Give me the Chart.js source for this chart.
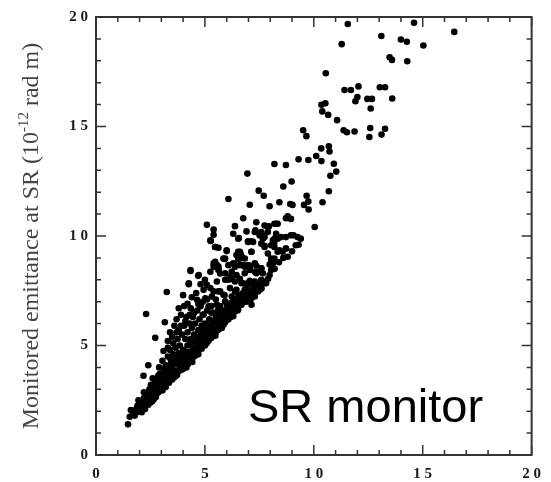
<!DOCTYPE html>
<html>
<head>
<meta charset="utf-8">
<script src="https://cdn.jsdelivr.net/npm/chart.js@4.4.1/dist/chart.umd.min.js"></script>
<style>
  html, body { margin: 0; padding: 0; background: #fff; }
  #wrap { width: 551px; height: 482px; }
</style>
</head>
<body>
<div id="wrap"><canvas id="mycanvas"></canvas></div>
<script>
// axis settings
var xMin = 0, xMax = 20, yMin = 0, yMax = 20;
var tickStep = 5;
var yTitle = ['Monitored emittance at SR (10', '-12', ' rad m)'];
var note = 'SR monitor';

// points, [x, y]
var upperPoints = [
  [11.56,19.68],[14.6,19.74],[16.45,19.32],[13.1,19.13],[11.28,18.76],[14.0,18.97],[14.27,18.87],
  [15.03,18.7],[13.48,18.16],[13.59,18.04],[14.29,17.98],[10.55,17.43],[12.05,16.83],[11.41,16.67],
  [11.7,16.67],[13.03,16.79],[13.27,16.79],[12.0,16.35],[11.91,16.15],[12.46,16.26],[12.67,16.26],
  [13.6,16.28],[12.61,15.82],[10.35,15.99],[10.53,16.06],[10.39,15.69],[10.66,15.53],[11.07,15.29]
];
var middlePoints = [
  [9.51,14.83],[9.66,14.56],[11.37,14.83],[11.52,14.74],[11.87,14.77],[12.59,14.93],[13.27,14.9],
  [12.55,14.52],[13.11,14.63],[10.34,14.0],[10.69,14.1],[10.72,13.86],[10.11,13.65],[10.35,13.42],
  [10.92,13.3],[11.03,12.94],[10.76,12.75],[9.3,13.5],[9.75,13.47],[8.72,13.24],[8.19,13.29],
  [8.98,12.49],[8.6,12.26],[10.69,12.04],[6.95,12.85],[7.47,12.07]
];
var lowerMidPoints = [
  [9.67,11.84],[9.75,11.57],[10.4,11.54],[8.42,11.54],[8.92,11.46],[9.02,11.42],[9.55,11.42],
  [9.76,11.21],[7.97,11.36],[8.8,10.9],[8.95,10.78],[8.72,10.81],[8.3,10.56],[7.89,10.41],
  [10.04,10.41],[8.5,9.95],[8.72,9.95],[8.95,10.03],[9.07,10.03],[9.25,9.95],[9.4,9.88],[8.2,9.88],
  [8.04,9.58],[8.72,9.43],[9.17,9.58],[8.42,9.35],[6.08,11.69],[7.7,11.84],[7.06,11.43],[6.76,10.81],
  [8.34,10.56],[7.94,10.44],[6.38,10.45],[7.32,10.26],[7.59,10.18],[7.74,9.95],[7.51,10.03],
  [6.3,10.1],[6.56,9.91],[6.98,9.76],[7.13,9.76],[8.27,9.95],[8.18,9.65],[8.8,9.05],[8.34,9.28],
  [7.59,9.65],[7.74,9.55],[7.89,9.2],[5.62,9.46],[6.0,9.31],[5.93,8.97],[6.53,9.28],[6.68,9.05],
  [6.45,9.13],[7.13,9.28],[8.04,8.97],[8.12,8.75],[7.97,8.7],[7.59,8.52],[7.51,8.37],[8.04,8.45],
  [5.09,10.51],[5.4,10.3],[5.4,10.06],[5.27,9.77],[5.47,9.5],[7.36,10.63],[7.74,10.48],[8.19,10.56],
  [7.89,10.18],[8.27,10.1],[7.66,10.03],[6.91,10.21],[7.29,10.18]
];
var spreadPoints = [
  [6.08,8.67],[6.3,8.75],[6.61,8.67],[6.83,8.6],[7.06,8.52],[7.29,8.37],[6.23,8.37],[5.62,8.6],
  [5.7,8.29],[5.93,8.0],[6.23,8.04],[6.61,8.04],[7.06,7.95],[7.66,7.92],[7.81,7.84],[6.76,7.84],
  [6.91,7.62],[7.36,7.62],[7.44,7.47],[6.38,7.47],[7.21,7.24],[5.93,7.01],[6.53,7.16],[6.68,6.86],
  [6.23,6.79],[5.62,7.47],
  [5.25,9.8],[5.47,9.5],[6.53,9.88],[6.98,9.73],[7.21,9.73],[7.66,9.88],[8.12,9.8],[8.34,9.88],
  [7.74,9.5],[8.19,9.5],[8.72,9.43],[8.57,9.28],[6.0,9.35],[6.61,9.28],[7.14,9.28],[6.61,8.97],
  [6.83,8.97],[5.85,8.97],[5.4,8.75],[5.55,8.67],[6.38,8.6],[6.98,8.67],[7.29,8.75],[7.59,8.52],
  [8.04,8.82],[8.19,8.97],[4.34,8.45],[4.72,8.22],[5.25,8.37],[5.62,8.45],[5.93,8.3],[6.15,8.15],
  [6.45,8.22],[6.83,8.3],[7.06,8.45],[7.36,8.3],[7.66,8.3],[7.97,8.22],[4.26,7.84],[5.09,7.77],
  [5.25,7.62],[5.55,7.92],[6.08,8.0],[6.38,7.92],[6.68,7.84],[6.98,7.84],[7.29,7.92],[7.59,8.0],
  [7.74,7.84],[4.94,7.54],[5.4,7.47],[5.7,7.47],[6.15,7.62],[6.45,7.54],[6.83,7.54],[7.14,7.47],
  [7.51,7.54],[4.64,7.09],[5.02,7.16],[5.32,7.24],[5.85,7.32],[6.23,7.24],[6.61,7.24],[6.98,7.24],
  [7.29,7.24],[4.79,6.79],[5.17,6.79],[5.55,6.86],[5.93,7.01],[6.38,6.94],[6.83,7.01],[7.14,6.86],
  [4.49,6.49],[4.94,6.41],[5.4,6.49],[5.85,6.56],[6.3,6.71],[6.53,6.64],[6.0,6.34],[6.3,6.34],
  [5.7,6.03],[5.47,5.88],
  [6.65,9.15],[6.71,9.0],[6.53,8.95],[5.9,8.95],[6.38,8.67],[6.76,8.67],[7.06,8.64],[7.36,8.64],
  [5.47,8.82],[5.4,8.6],[5.62,8.49]
];
var densePoints = [
  [1.47,1.40],[1.55,1.75],[1.6,2.05],[1.7,1.95],[1.78,1.8],[1.85,2.1],[1.92,1.97],[1.95,2.5],[1.9,2.25],
  [2.05,2.35],[2.1,1.95],[2.15,2.2],[2.2,2.6],[2.2,2.86],[2.25,2.1],[2.3,2.45],[2.35,2.75],[2.4,2.3],
  [2.18,3.62],[2.4,4.1],[2.42,2.55],[2.45,3.0],[2.3,6.44],
  [2.5,2.4],[2.55,2.7],[2.6,3.1],[2.65,2.55],[2.7,2.9],[2.72,3.35],[2.75,2.65],[2.8,3.1],[2.85,3.6],
  [2.85,2.85],[2.9,3.3],[2.9,4.0],[2.72,5.35],[2.6,3.5],[2.95,2.95],
  [3.0,3.2],[3.0,3.6],[3.05,4.3],[3.05,2.95],[3.1,3.9],[3.1,4.75],[3.15,3.4],[3.16,6.06],[3.2,3.1],
  [3.2,4.1],[3.25,7.44],[3.25,3.7],[3.3,4.5],[3.3,5.2],[3.35,3.3],[3.35,3.95],[3.4,4.8],[3.4,5.6],
  [3.45,3.55],[3.45,4.25],
  [3.5,3.45],[3.5,3.9],[3.55,4.6],[3.55,5.1],[3.6,4.2],[3.6,5.9],[3.65,3.6],[3.65,4.9],[3.7,4.4],
  [3.7,6.2],[3.75,3.8],[3.75,5.3],[3.8,4.65],[3.8,5.7],[3.85,4.0],[3.85,5.0],[3.9,4.3],[3.9,6.4],
  [3.95,3.9],[3.95,5.5],
  [4.0,4.1],[4.0,4.8],[4.05,5.9],[4.05,6.8],[4.1,4.5],[4.1,5.3],[4.15,4.0],[4.15,6.3],[4.2,5.0],
  [4.2,5.6],[4.25,4.3],[4.26,7.8],[4.3,4.7],[4.3,6.0],[4.34,8.4],[4.35,5.3],[4.35,6.7],[4.4,4.4],
  [4.4,5.8],[4.45,4.9],[4.45,6.3],
  [4.5,4.5],[4.5,5.5],[4.55,6.0],[4.6,4.8],[4.6,5.2],[4.65,6.6],[4.69,8.18],[4.7,4.6],[4.7,5.7],
  [4.75,5.0],[4.75,6.2],[4.8,5.4],[4.8,6.8],[4.85,4.85],[4.85,5.9],[4.9,5.2],[4.9,6.4],[4.95,5.6],
  [5.0,5.0],[5.0,6.0],[5.05,5.4],[5.1,5.8],[5.1,6.6],[5.15,5.2],[5.2,5.6],[5.2,6.2],[5.25,5.9],
  [5.3,5.35],[5.3,6.5],[5.35,5.7],[5.4,6.1],[5.4,5.45],
  [5.5,5.6],[5.5,6.3],[5.55,5.9],[5.6,6.6],[5.65,5.75],[5.7,6.2],[5.75,6.0],[5.8,6.45],[5.85,5.95],
  [5.9,6.3],[5.95,6.6],
  [6.0,6.15],[6.05,6.5],[6.1,6.3],[6.2,6.45],[6.25,6.8],[6.3,6.55],[6.4,6.7],[6.45,7.0]
];
var fillPoints = [
  [2.0,2.1],[2.12,2.45],[2.28,2.3],[2.38,2.6],[2.48,2.75],[2.52,3.2],[2.58,2.45],[2.62,2.9],[2.68,3.2],
  [2.78,2.8],[2.82,3.35],[2.88,3.05],[2.92,3.7],[2.98,3.4],[3.02,3.05],[3.08,3.5],[3.12,3.2],[3.18,3.75],
  [3.22,3.35],[3.28,4.0],[3.32,3.55],[3.38,3.75],[3.42,4.4],[3.48,3.7],[3.52,4.1],[3.58,3.55],[3.62,3.85],
  [3.68,4.15],[3.72,3.65],[3.78,4.3],[3.82,3.85],[3.88,4.6],[3.92,4.05],[3.98,4.4],[4.02,3.95],[4.08,4.25],
  [4.12,4.7],[4.18,4.4],[4.22,4.15],[4.28,4.55],[4.32,5.1],[4.38,4.6],[4.42,4.25],[4.48,4.75],[4.52,5.2],
  [4.58,4.55],[4.62,5.0],[4.68,5.4],[4.72,4.8],[4.78,5.2],[4.82,5.6],[4.88,5.0],[4.92,5.4],[4.98,5.2],
  [5.02,5.75],[5.08,5.1],[5.12,5.5],[5.18,5.9],[5.22,5.3],[5.28,5.7],[5.32,6.05],[5.38,5.55],[5.42,5.9],
  [5.48,5.45],[5.52,6.1],[5.58,5.7],[5.62,6.4],[5.68,5.9],[5.72,6.45],[5.78,5.8],[5.82,6.2],[5.88,6.6],
  [5.92,6.05],[5.98,6.4],[6.02,6.85],[6.08,6.2],[6.12,6.6],[6.18,6.3],[6.22,6.95],[6.28,6.45],[6.32,7.1],
  [6.38,6.55],[6.42,6.85],[6.5,6.6],[6.55,7.3],[6.6,6.9],[6.7,7.05],[6.75,7.4],[6.85,7.2],[6.9,7.0],
  [7.0,7.45],[7.1,7.1],[7.2,7.7],[7.3,7.4],[7.5,7.8],[7.6,7.6],[7.9,8.05],[8.2,8.5],[8.4,8.8],[8.6,9.0],
  [9.0,9.3],[9.3,9.6],
  [3.3,4.9],[3.5,5.4],[3.7,5.6],[3.9,5.9],[4.1,6.1],[4.3,6.4],[4.5,6.5],[4.7,6.9],[4.9,7.0],[5.1,7.1],
  [5.3,6.8],[5.5,7.1],[5.7,6.8],[5.9,7.3],[4.2,6.9],[4.4,7.2],[4.0,7.3],[3.8,6.7],[4.6,7.4],[4.8,7.8],
  [5.0,8.0]
];

var allPoints = densePoints.concat(fillPoints, spreadPoints, lowerMidPoints, middlePoints, upperPoints)
  .map(function(p){ return {x: p[0], y: p[1]}; });

function spaced(v) { return String(v).split('').join(' '); }

// inward ticks, box frame, rotated title and the note
var framePlugin = {
  id: 'frame',
  afterDraw: function(chart) {
    var ctx = chart.ctx, a = chart.chartArea;
    var xs = chart.scales.x, ys = chart.scales.y;
    ctx.save();
    ctx.strokeStyle = '#333';
    ctx.lineWidth = 2;
    ctx.strokeRect(a.left, a.top, a.right - a.left, a.bottom - a.top);
    ctx.lineWidth = 1.5;
    ctx.beginPath();
    for (var v = xMin; v <= xMax; v++) {
      var len = v % tickStep === 0 ? 10 : 5;
      var px = xs.getPixelForValue(v);
      ctx.moveTo(px, a.bottom); ctx.lineTo(px, a.bottom - len);
      ctx.moveTo(px, a.top); ctx.lineTo(px, a.top + len);
    }
    for (var w = yMin; w <= yMax; w++) {
      var len2 = w % tickStep === 0 ? 10 : 5;
      var py = ys.getPixelForValue(w);
      ctx.moveTo(a.left, py); ctx.lineTo(a.left + len2, py);
      ctx.moveTo(a.right, py); ctx.lineTo(a.right - len2, py);
    }
    ctx.stroke();

    // y title with superscript
    var cy = (a.top + a.bottom) / 2;
    ctx.translate(30, cy);
    ctx.rotate(-Math.PI / 2);
    ctx.fillStyle = '#444';
    var big = '24px "Liberation Serif", "Times New Roman", serif';
    var small = '15px "Liberation Serif", "Times New Roman", serif';
    ctx.font = big;
    var w1 = ctx.measureText(yTitle[0]).width;
    var w3 = ctx.measureText(yTitle[2]).width;
    ctx.font = small;
    var w2 = ctx.measureText(yTitle[1]).width;
    var start = -(w1 + w2 + w3) / 2;
    ctx.textBaseline = 'alphabetic';
    ctx.font = big;
    ctx.fillText(yTitle[0], start, 8);
    ctx.font = small;
    ctx.fillText(yTitle[1], start + w1, -2);
    ctx.font = big;
    ctx.fillText(yTitle[2], start + w1 + w2, 8);
    ctx.setTransform(1, 0, 0, 1, 0, 0);

    ctx.fillStyle = '#000';
    ctx.font = '47px "Liberation Sans", Arial, sans-serif';
    ctx.textBaseline = 'alphabetic';
    ctx.fillText(note, 248, 422);
    ctx.restore();
  }
};

var tickFont = { family: '"Liberation Serif", "Times New Roman", serif', size: 15, weight: 'bold' };

var ctx = document.getElementById('mycanvas');
var chart = new Chart(ctx, {
  type: 'scatter',
  data: {
    datasets: [{
      label: 'emittance',
      data: allPoints,
      backgroundColor: '#000',
      borderWidth: 0,
      pointRadius: 3.3,
      pointHoverRadius: 3.3
    }]
  },
  options: {
    responsive: true,
    maintainAspectRatio: false,
    animation: false,
    layout: { padding: { left: 0, top: 13, right: 14, bottom: 0 } },
    plugins: { legend: { display: false }, tooltip: { enabled: false } },
    scales: {
      x: {
        type: 'linear', min: xMin, max: xMax,
        border: { display: false },
        grid: { display: false, drawTicks: false },
        ticks: { stepSize: tickStep, padding: 10, color: '#1a1a1a', font: tickFont, maxRotation: 0, callback: spaced },
        afterFit: function(s) { s.height = 27; }
      },
      y: {
        type: 'linear', min: yMin, max: yMax,
        border: { display: false },
        grid: { display: false, drawTicks: false },
        ticks: { stepSize: tickStep, padding: 8, color: '#1a1a1a', font: tickFont, callback: spaced },
        afterFit: function(s) { s.width = 96; }
      }
    }
  },
  plugins: [framePlugin]
});
</script>
</body>
</html>
